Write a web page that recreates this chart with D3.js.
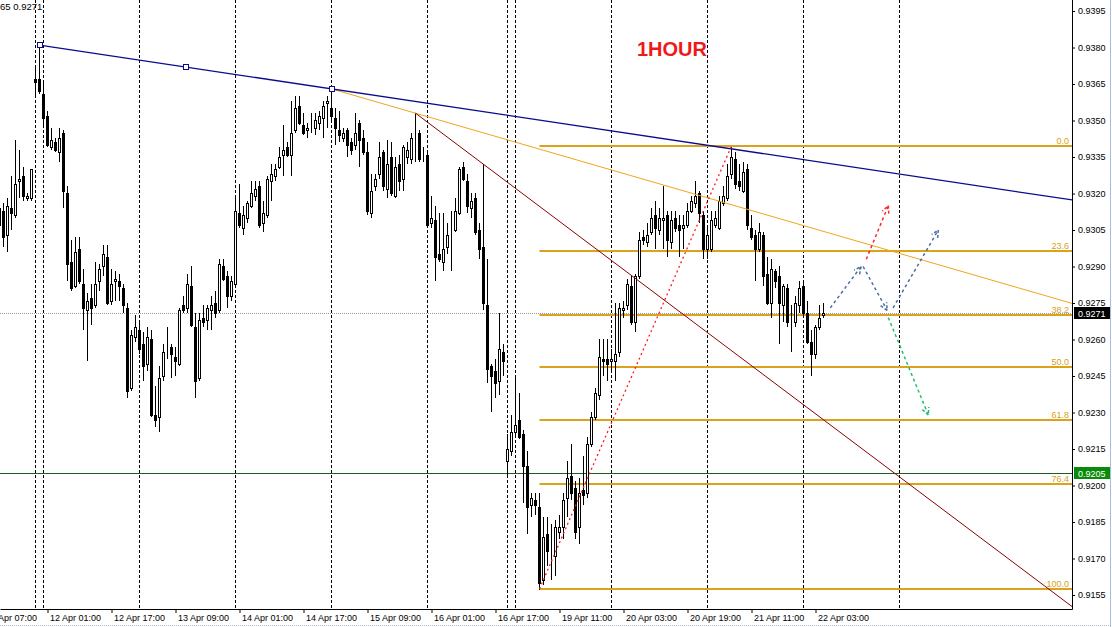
<!DOCTYPE html>
<html><head><meta charset="utf-8">
<script src="https://cdn.jsdelivr.net/npm/d3@7"></script>
<style>html,body{margin:0;padding:0;background:#fff;overflow:hidden}svg{display:block}</style>
</head><body>
<svg id="c" width="1112" height="627"></svg>
<script>
// ---------- data (EURCHF-like, H1) ----------
const firstBar = -1;
const opens = [0.9314,0.9313,0.9303,0.9314,0.9311,0.9325,0.9327,0.9318,0.9318,0.9367,0.9367,
0.9361,0.9352,0.9339,0.9341,0.9337,0.9345,0.9320,0.9292,0.9282,0.9297,
0.9283,0.9272,0.9277,0.9274,0.9284,0.9290,0.9294,0.9276,0.9284,0.9284,
0.9281,0.9273,0.9240,0.9261,0.9264,0.9258,0.9250,0.9260,0.9229,0.9228,
0.9245,0.9256,0.9257,0.9253,0.9250,0.9274,0.9273,0.9282,0.9265,0.9244,
0.9269,0.9268,0.9272,0.9275,0.9272,0.9290,0.9286,0.9278,0.9283,0.9312,
0.9306,0.9310,0.9315,0.9319,0.9323,0.9308,0.9311,0.9325,0.9327,0.9331,
0.9336,0.9339,0.9336,0.9346,0.9356,0.9348,0.9346,0.9346,0.9347,0.9349,
0.9351,0.9357,0.9355,0.9351,0.9346,0.9343,0.9346,0.9341,0.9340,0.9349,
0.9343,0.9337,0.9312,0.9323,0.9328,0.9337,0.9322,0.9335,0.9319,0.9332,
0.9326,0.9335,0.9334,0.9344,0.9345,0.9335,0.9336,0.9308,0.9309,0.9295,
0.9292,0.9298,0.9304,0.9305,0.9312,0.9331,0.9325,0.9314,0.9318,0.9305,
0.9298,0.9274,0.9249,0.9247,0.9243,0.9255,0.9210,0.9214,0.9222,0.9227,
0.9221,0.9208,0.9192,0.9194,0.9191,0.9161,0.9180,0.9172,0.9171,0.9181,
0.9183,0.9195,0.9204,0.9199,0.9183,0.9198,0.9197,0.9217,0.9228,0.9237,
0.9252,0.9252,0.9251,0.9251,0.9255,0.9272,0.9274,0.9282,0.9267,0.9286,
0.9302,0.9300,0.9304,0.9311,0.9305,0.9309,0.9311,0.9300,0.9310,0.9307,
0.9306,0.9307,0.9313,0.9316,0.9320,0.9311,0.9297,0.9297,0.9307,0.9306,
0.9316,0.9318,0.9328,0.9334,0.9325,0.9321,0.9330,0.9306,0.9303,0.9297,
0.9303,0.9287,0.9275,0.9288,0.9286,0.9274,0.9281,0.9265,0.9267,0.9274,
0.9282,0.9271,0.9259,0.9254,0.9265,0.9270];
const highs = [0.9315,0.9316,0.9318,0.9327,0.9342,0.9338,0.9331,0.9320,0.9330,0.9372,0.9381,
0.9366,0.9354,0.9347,0.9343,0.9347,0.9346,0.9323,0.9301,0.9302,0.9302,
0.9289,0.9279,0.9283,0.9292,0.9291,0.9299,0.9299,0.9289,0.9288,0.9287,
0.9283,0.9275,0.9264,0.9270,0.9267,0.9263,0.9265,0.9264,0.9241,0.9249,
0.9258,0.9265,0.9258,0.9257,0.9273,0.9278,0.9287,0.9290,0.9271,0.9271,
0.9274,0.9274,0.9278,0.9280,0.9293,0.9293,0.9288,0.9286,0.9319,0.9324,
0.9315,0.9317,0.9325,0.9325,0.9325,0.9317,0.9327,0.9332,0.9332,0.9339,
0.9348,0.9341,0.9358,0.9360,0.9360,0.9353,0.9349,0.9353,0.9353,0.9354,
0.9358,0.9360,0.9363,0.9355,0.9354,0.9347,0.9347,0.9343,0.9353,0.9350,
0.9346,0.9341,0.9328,0.9328,0.9341,0.9338,0.9342,0.9341,0.9335,0.9336,
0.9340,0.9341,0.9345,0.9353,0.9346,0.9339,0.9337,0.9319,0.9315,0.9312,
0.9312,0.9308,0.9313,0.9318,0.9331,0.9333,0.9328,0.9320,0.9320,0.9308,
0.9332,0.9293,0.9250,0.9252,0.9271,0.9258,0.9221,0.9229,0.9244,0.9238,
0.9223,0.9214,0.9197,0.9197,0.9197,0.9187,0.9187,0.9184,0.9186,0.9188,
0.9197,0.9210,0.9217,0.9202,0.9203,0.9212,0.9220,0.9230,0.9240,0.9260,
0.9260,0.9260,0.9256,0.9275,0.9275,0.9276,0.9285,0.9286,0.9287,0.9304,
0.9305,0.9308,0.9314,0.9317,0.9314,0.9323,0.9313,0.9313,0.9313,0.9311,
0.9311,0.9316,0.9319,0.9325,0.9321,0.9313,0.9306,0.9313,0.9313,0.9319,
0.9323,0.9332,0.9339,0.9337,0.9332,0.9333,0.9332,0.9311,0.9305,0.9308,
0.9304,0.9294,0.9293,0.9289,0.9290,0.9283,0.9283,0.9274,0.9278,0.9284,
0.9284,0.9276,0.9264,0.9266,0.9274,0.9275];
const lows = [0.9305,0.9298,0.9296,0.9305,0.9310,0.9318,0.9317,0.9317,0.9317,0.9360,0.9361,
0.9348,0.9339,0.9338,0.9337,0.9333,0.9314,0.9284,0.9280,0.9281,0.9283,
0.9264,0.9251,0.9266,0.9273,0.9280,0.9286,0.9274,0.9274,0.9276,0.9276,
0.9271,0.9236,0.9239,0.9259,0.9254,0.9243,0.9247,0.9228,0.9224,0.9222,
0.9243,0.9252,0.9244,0.9245,0.9249,0.9271,0.9271,0.9265,0.9236,0.9243,
0.9265,0.9264,0.9264,0.9269,0.9271,0.9284,0.9273,0.9276,0.9282,0.9306,
0.9303,0.9308,0.9314,0.9317,0.9306,0.9304,0.9310,0.9317,0.9325,0.9330,
0.9327,0.9335,0.9327,0.9345,0.9348,0.9344,0.9343,0.9345,0.9344,0.9346,
0.9343,0.9347,0.9350,0.9340,0.9341,0.9341,0.9335,0.9336,0.9338,0.9331,
0.9336,0.9311,0.9310,0.9321,0.9326,0.9321,0.9318,0.9319,0.9318,0.9321,
0.9321,0.9332,0.9332,0.9333,0.9333,0.9333,0.9306,0.9306,0.9284,0.9292,
0.9288,0.9295,0.9288,0.9304,0.9311,0.9325,0.9312,0.9310,0.9303,0.9293,
0.9272,0.9242,0.9230,0.9236,0.9237,0.9245,0.9204,0.9212,0.9220,0.9219,
0.9193,0.9180,0.9187,0.9188,0.9157,0.9159,0.9167,0.9161,0.9163,0.9178,
0.9178,0.9187,0.9194,0.9178,0.9176,0.9192,0.9195,0.9216,0.9227,0.9235,
0.9245,0.9243,0.9247,0.9243,0.9253,0.9269,0.9272,0.9266,0.9263,0.9285,
0.9299,0.9298,0.9303,0.9297,0.9303,0.9297,0.9294,0.9297,0.9304,0.9294,
0.9297,0.9306,0.9312,0.9314,0.9308,0.9293,0.9293,0.9296,0.9306,0.9305,
0.9315,0.9317,0.9326,0.9322,0.9321,0.9320,0.9305,0.9301,0.9284,0.9296,
0.9282,0.9274,0.9269,0.9281,0.9258,0.9267,0.9265,0.9255,0.9265,0.9271,
0.9269,0.9258,0.9245,0.9252,0.9264,0.9269];
const closes = [0.9307,0.9302,0.9315,0.9312,0.9324,0.9326,0.9319,0.9319,0.9330,0.9366,0.9362,
0.9351,0.9340,0.9342,0.9338,0.9343,0.9321,0.9291,0.9281,0.9296,0.9284,
0.9273,0.9276,0.9273,0.9283,0.9289,0.9295,0.9275,0.9283,0.9285,0.9282,
0.9274,0.9239,0.9262,0.9265,0.9256,0.9249,0.9261,0.9229,0.9227,0.9244,
0.9255,0.9256,0.9254,0.9251,0.9272,0.9272,0.9283,0.9266,0.9243,0.9268,
0.9267,0.9273,0.9274,0.9271,0.9291,0.9285,0.9278,0.9284,0.9313,0.9307,
0.9311,0.9316,0.9320,0.9322,0.9307,0.9312,0.9326,0.9328,0.9330,0.9335,
0.9338,0.9336,0.9345,0.9355,0.9349,0.9345,0.9347,0.9346,0.9350,0.9352,
0.9356,0.9358,0.9352,0.9347,0.9344,0.9345,0.9340,0.9338,0.9345,0.9342,
0.9337,0.9313,0.9321,0.9326,0.9335,0.9323,0.9332,0.9320,0.9331,0.9325,
0.9339,0.9338,0.9343,0.9344,0.9334,0.9335,0.9307,0.9310,0.9294,0.9293,
0.9297,0.9303,0.9304,0.9313,0.9330,0.9326,0.9315,0.9317,0.9304,0.9297,
0.9275,0.9248,0.9245,0.9242,0.9256,0.9251,0.9215,0.9222,0.9225,0.9220,
0.9208,0.9191,0.9195,0.9192,0.9160,0.9179,0.9173,0.9172,0.9183,0.9183,
0.9194,0.9203,0.9197,0.9181,0.9197,0.9196,0.9217,0.9228,0.9238,0.9253,
0.9251,0.9250,0.9252,0.9254,0.9273,0.9273,0.9283,0.9267,0.9286,0.9301,
0.9301,0.9303,0.9310,0.9306,0.9310,0.9310,0.9301,0.9309,0.9306,0.9305,
0.9307,0.9313,0.9317,0.9319,0.9312,0.9297,0.9303,0.9309,0.9310,0.9317,
0.9319,0.9327,0.9335,0.9324,0.9323,0.9329,0.9307,0.9302,0.9297,0.9304,
0.9286,0.9275,0.9289,0.9284,0.9275,0.9282,0.9267,0.9265,0.9275,0.9281,
0.9271,0.9259,0.9254,0.9265,0.9269,0.9271];

const yTicks = [0.9155,0.9170,0.9185,0.9200,0.9215,0.9230,0.9245,0.9260,0.9275,0.9290,0.9305,0.9320,0.9335,0.9350,0.9365,0.9380,0.9395];
const xTickBars = [-5,11,27,43,59,75,91,107,123,139,155,171,187,203];
const xTickLabels = ["10 Apr 07:00","12 Apr 01:00","12 Apr 17:00","13 Apr 09:00","14 Apr 01:00","14 Apr 17:00","15 Apr 09:00","16 Apr 01:00","16 Apr 17:00","19 Apr 11:00","20 Apr 03:00","20 Apr 19:00","21 Apr 11:00","22 Apr 03:00"];
const separatorBars = [8,10,34,58,82,106,126,128,152,176,200,224];

const fibHigh = 0.93395, fibLow = 0.91575, fibStartBar = 134, fibEndBar = 182;
const fibLevels = [0.0, 23.6, 38.2, 50.0, 61.8, 76.4, 100.0];
const bidPrice = 0.9271;
const markPrice = 0.9205;
const blueTrend = [[9,0.9381],[82,0.9363]];
const orangeTrend = [[82,0.9363],[103,0.9353]];
const redTrend = [[103,0.9353],[120,0.9332]];
const arrows = [
  {from:[206.7,0.9273], to:[214.4,0.9290], color:"#4a6ea8"},
  {from:[214.9,0.9290], to:[220.9,0.9272], color:"#4a6ea8"},
  {from:[222.4,0.9273], to:[233.7,0.9305], color:"#4a6ea8"},
  {from:[215.7,0.9293], to:[221.2,0.9315], color:"#ff2626"},
  {from:[221.2,0.9269], to:[231.2,0.9229], color:"#22c06a"}
];

// ---------- layout ----------
const W = 1112, H = 627, plotR = 1072, plotB = 609;
const svg = d3.select("#c");
const x = d3.scaleLinear().domain([-0.875, 267.125]).range([0, plotR]);
const y = d3.scaleLinear().domain([0.9155, 0.9395]).range([595, 11]);
const FONT = "Liberation Sans, Arial, sans-serif";

svg.append("rect").attr("width",W).attr("height",H).attr("fill","#fff");
svg.append("defs").append("clipPath").attr("id","clip")
  .append("rect").attr("x",0).attr("y",0).attr("width",plotR).attr("height",plotB);
const plot = svg.append("g").attr("clip-path","url(#clip)");

// period separators
plot.append("g").selectAll("line").data(separatorBars).join("line")
  .attr("x1",d=>x(d)).attr("x2",d=>x(d)).attr("y1",0).attr("y2",plotB)
  .attr("stroke","#000").attr("stroke-dasharray","3,2");

// horizontal price lines
plot.append("line").attr("x1",0).attr("x2",plotR)
  .attr("y1",Math.round(y(markPrice))+0.5).attr("y2",Math.round(y(markPrice))+0.5)
  .attr("stroke","#1d5e1d");
plot.append("line").attr("x1",0).attr("x2",plotR)
  .attr("y1",Math.round(y(bidPrice))+0.5).attr("y2",Math.round(y(bidPrice))+0.5)
  .attr("stroke","#9a9a9a").attr("stroke-dasharray","1,1");

// fibonacci levels
const fibPrice = l => fibHigh - (fibHigh - fibLow) * l / 100;
const fg = plot.append("g");
fg.selectAll("line").data(fibLevels).join("line")
  .attr("x1",x(fibStartBar)).attr("x2",plotR)
  .attr("y1",d=>Math.round(y(fibPrice(d)))).attr("y2",d=>Math.round(y(fibPrice(d))))
  .attr("stroke","#dba21e").attr("stroke-width",2);
fg.selectAll("text").data(fibLevels).join("text")
  .attr("x",plotR-3).attr("y",d=>Math.round(y(fibPrice(d)))-2)
  .attr("text-anchor","end").attr("font-family",FONT).attr("font-size",9)
  .attr("fill","#d9a016").text(d=>d.toFixed(1));

// candles
const bars = opens.map((o,k)=>({i:k+firstBar,o,h:highs[k],l:lows[k],c:closes[k]}));
const cg = plot.append("g");
cg.selectAll("line").data(bars).join("line")
  .attr("x1",d=>x(d.i)).attr("x2",d=>x(d.i))
  .attr("y1",d=>Math.round(y(d.h))).attr("y2",d=>Math.round(y(d.l)))
  .attr("stroke","#000");
cg.selectAll("rect").data(bars).join("rect")
  .attr("x",d=>x(d.i)-1).attr("width",2)
  .attr("y",d=>Math.round(y(Math.max(d.o,d.c)))+0.5)
  .attr("height",d=>Math.max(0,Math.round(y(Math.min(d.o,d.c)))-Math.round(y(Math.max(d.o,d.c)))))
  .attr("fill",d=>d.c<d.o?"#000":"#fff").attr("stroke","#000");

// trend lines (rays)
function ray(p, color, w){
  const [a,b] = p;
  const slope = (b[1]-a[1])/(b[0]-a[0]);
  const endBar = 268;
  plot.append("line").attr("x1",x(a[0])).attr("y1",y(a[1]))
    .attr("x2",x(endBar)).attr("y2",y(a[1]+slope*(endBar-a[0])))
    .attr("stroke",color).attr("stroke-width",w);
}
ray(orangeTrend,"#f2a51c",1);
ray(redTrend,"#8b0000",1);
ray(blueTrend,"#0b0b8f",1.3);
// blue trend anchor squares (start, middle, end)
const bt = blueTrend;
const mids = [bt[0],[(bt[0][0]+bt[1][0])/2,(bt[0][1]+bt[1][1])/2],bt[1]];
plot.append("g").selectAll("rect").data(mids).join("rect")
  .attr("x",d=>Math.round(x(d[0]))-2.5).attr("y",d=>Math.round(y(d[1]))-2.5)
  .attr("width",5).attr("height",5).attr("fill","#fff").attr("stroke","#0b0b8f");

// fibo base line (dotted red)
plot.append("line").attr("x1",x(fibStartBar)).attr("y1",y(fibLow))
  .attr("x2",x(fibEndBar)).attr("y2",y(fibHigh))
  .attr("stroke","#ff1a1a").attr("stroke-width",1.3).attr("stroke-dasharray","2,3");

// forecast arrows
const ag = plot.append("g");
arrows.forEach(a=>{
  const x1=x(a.from[0]), y1=y(a.from[1]), x2=x(a.to[0]), y2=y(a.to[1]);
  ag.append("line").attr("x1",x1).attr("y1",y1).attr("x2",x2).attr("y2",y2)
    .attr("stroke",a.color).attr("stroke-width",1.5).attr("stroke-dasharray","3,3");
  const ang = Math.atan2(y2-y1,x2-x1), L=8, s=0.45;
  const p1=[x2-L*Math.cos(ang-s), y2-L*Math.sin(ang-s)];
  const p2=[x2-L*Math.cos(ang+s), y2-L*Math.sin(ang+s)];
  ag.append("path").attr("d",`M${p1}L${x2},${y2}L${p2}`)
    .attr("fill","none").attr("stroke",a.color).attr("stroke-width",1.5).attr("stroke-dasharray","3,2");
});

// axes
const yAxis = d3.axisRight(y).tickValues(yTicks).tickSize(3).tickFormat(d3.format(".4f"));
const yg = svg.append("g").attr("transform",`translate(${plotR},0)`).call(yAxis);
yg.select(".domain").remove();
yg.selectAll("text").attr("font-family",FONT).attr("font-size",9).attr("fill","#000").attr("x",6);
yg.selectAll("line").attr("stroke","#000");
svg.append("line").attr("x1",plotR+0.5).attr("x2",plotR+0.5).attr("y1",0).attr("y2",plotB+0.5).attr("stroke","#000");

const xAxis = d3.axisBottom(x).tickValues(xTickBars).tickSize(4).tickSizeOuter(0)
  .tickFormat((d,i)=>xTickLabels[i]);
const xg = svg.append("g").attr("transform",`translate(0,${plotB})`).call(xAxis);
xg.selectAll("text").attr("font-family",FONT).attr("font-size",9).attr("fill","#000")
  .attr("text-anchor","start").attr("x",2).attr("y",6).attr("dy","0.71em");
xg.selectAll("line").attr("stroke","#000");
xg.select(".domain").attr("stroke","#000");

// price tags on axis
function tag(price, bg){
  const yy = y(price);
  svg.append("rect").attr("x",plotR+2).attr("y",Math.round(yy)-6).attr("width",36).attr("height",12).attr("fill",bg);
  svg.append("text").attr("x",plotR+6).attr("y",Math.round(yy)+3.5)
    .attr("font-family",FONT).attr("font-size",9).attr("fill","#fff").text(d3.format(".4f")(price));
}
tag(bidPrice,"#000");
tag(markPrice,"#0a8a0a");

// texts
svg.append("text").attr("x",0).attr("y",10).attr("font-family",FONT).attr("font-size",9.5)
  .attr("fill","#000").text("65 0.9271");
svg.append("text").attr("x",672).attr("y",56).attr("text-anchor","middle")
  .attr("font-family",FONT).attr("font-size",20).attr("font-weight","bold")
  .attr("fill","#ee1a1a").text("1HOUR");

// window frame
svg.append("line").attr("x1",1110.5).attr("x2",1110.5).attr("y1",0).attr("y2",H).attr("stroke","#a8bcd8");
svg.append("line").attr("x1",0).attr("x2",W).attr("y1",625.5).attr("y2",625.5).attr("stroke","#a8bcd8").attr("stroke-dasharray","1,1");
</script>
</body></html>
